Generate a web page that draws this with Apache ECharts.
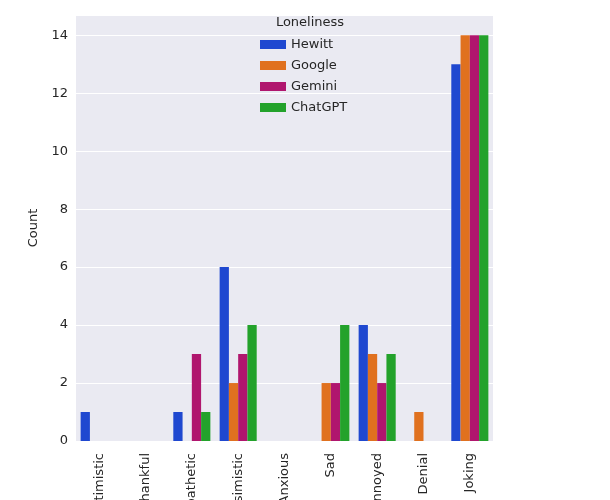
<!DOCTYPE html>
<html>
<head>
<meta charset="UTF-8">
<script src="https://cdn.jsdelivr.net/npm/echarts@6/dist/echarts.min.js"></script>
<style>html,body{margin:0;padding:0;background:#fff;}#main{width:610px;height:500px;}</style>
</head>
<body>
<div id="main"></div>
<script>
var categories = ['Optimistic', 'Thankful', 'Empathetic', 'Pessimistic', 'Anxious', 'Sad', 'Annoyed', 'Denial', 'Joking'];
var hewitt = [1, 0, 1, 6, 0, 0, 4, 0, 13];
var google = [0, 0, 0, 2, 0, 2, 3, 1, 14];
var gemini = [0, 0, 3, 3, 0, 2, 2, 0, 14];
var chatgpt = [0, 0, 1, 4, 0, 4, 3, 0, 14];
var names = ['Hewitt', 'Google', 'Gemini', 'ChatGPT'];
var colors = ['#1f48d0', '#e0711f', '#b0166e', '#23a22b'];
var seriesData = [hewitt, google, gemini, chatgpt];

var chart = echarts.init(document.getElementById('main'));
var font = 'DejaVu Sans';
chart.setOption({
    animation: false,
    textStyle: {fontFamily: font},
    title: {
        text: 'Loneliness', left: 305, top: 11, textAlign: 'center',
        textStyle: {fontSize: 13, fontWeight: 'normal', color: '#262626', fontFamily: font}
    },
    legend: {
        data: names, orient: 'vertical', left: 255, top: 33, itemGap: 8,
        itemWidth: 26, itemHeight: 9, icon: 'rect',
        textStyle: {fontSize: 13, color: '#262626', fontFamily: font}
    },
    grid: {left: 76, right: 117, top: 15, bottom: 59, show: true, backgroundColor: '#eaeaf2', borderWidth: 0,
        containLabel: false, outerBoundsMode: 'none'},
    xAxis: {
        type: 'category', data: categories,
        axisLine: {show: false}, axisTick: {show: false},
        axisLabel: {rotate: 90, fontSize: 13, color: '#262626', margin: 12, interval: 0}
    },
    yAxis: {
        type: 'value', min: 0, max: 14.7, interval: 2, name: 'Count',
        nameLocation: 'middle', nameGap: 35, nameTextStyle: {fontSize: 13, color: '#262626'},
        axisLine: {show: false}, axisTick: {show: false},
        axisLabel: {fontSize: 13, color: '#262626', showMaxLabel: false},
        splitLine: {lineStyle: {color: '#ffffff', width: 1}}
    },
    series: names.map(function (n, i) {
        return {
            name: n, type: 'bar', data: seriesData[i],
            itemStyle: {color: colors[i]},
            barGap: '0%', barCategoryGap: '20%'
        };
    })
});
</script>
</body>
</html>
